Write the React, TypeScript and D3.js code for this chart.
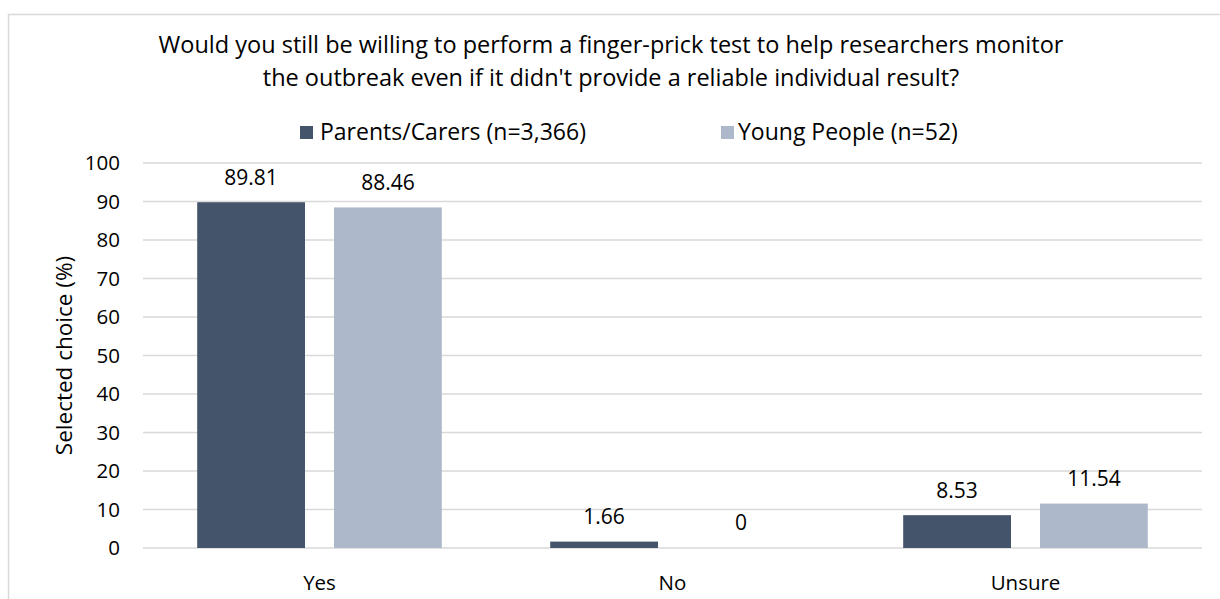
import React from "react";
import * as d3 from "d3";

const categories = ["Yes", "No", "Unsure"];
const seriesNames = ["Parents/Carers (n=3,366)", "Young People (n=52)"];
const parentsValues = [89.81, 1.66, 8.53];
const youngValues = [88.46, 0, 11.54];
const yTicks = [0, 10, 20, 30, 40, 50, 60, 70, 80, 90, 100];
const titleLines = [
  "Would you still be willing to perform a finger-prick test to help researchers monitor",
  "the outbreak even if it didn't provide a reliable individual result?",
];

const colors = ["#44546A", "#ADB9CA"];
const FONT = "'Open Sans', 'Noto Sans', sans-serif";
const W = 1220;
const H = 599;
const plot = { left: 143, right: 1202, top: 163, bottom: 548 };

export default function App() {
  const series = [parentsValues, youngValues];
  const x0 = d3.scaleBand<string>().domain(categories).range([plot.left, plot.right]).paddingInner(0).paddingOuter(0);
  const groupPad = 54.2;
  const x1 = d3
    .scaleBand<number>()
    .domain([0, 1])
    .range([groupPad, x0.bandwidth() - groupPad])
    .paddingInner(0.212)
    .paddingOuter(0);
  const y = d3.scaleLinear().domain([0, 100]).range([plot.bottom, plot.top]);

  return (
    <svg
      width={W}
      height={H}
      style={{ position: "absolute", left: 0, top: 0, background: "#fff" }}
      fontFamily={FONT}
    >
      <rect x={8.5} y={14.5} width={W} height={H} fill="#fff" stroke="#D9D9D9" strokeWidth={1.5} />

      {titleLines.map((t, i) => (
        <text key={i} x={611} y={53 + i * 33} textAnchor="middle" fontSize={23.5} fill="#000">
          {t}
        </text>
      ))}

      {/* legend */}
      <g>
        <rect x={300} y={126} width={13} height={13} fill={colors[0]} />
        <text x={320} y={140} fontSize={23} fill="#000">{seriesNames[0]}</text>
        <rect x={721} y={126} width={13} height={13} fill={colors[1]} />
        <text x={738} y={140} fontSize={23} fill="#000">{seriesNames[1]}</text>
      </g>

      {/* gridlines and y ticks */}
      {yTicks.map((t) => (
        <g key={t}>
          <line x1={plot.left} x2={plot.right} y1={y(t)} y2={y(t)} stroke="#D9D9D9" strokeWidth={1.3} />
          <text x={120} y={y(t)} dy="0.35em" textAnchor="end" fontSize={20.5} fill="#000">
            {t}
          </text>
        </g>
      ))}

      <text
        transform={`translate(72, ${(plot.top + plot.bottom) / 2}) rotate(-90)`}
        textAnchor="middle"
        fontSize={22.5}
        fill="#000"
      >
        Selected choice (%)
      </text>

      {/* bars */}
      {categories.map((c, ci) => (
        <g key={c} transform={`translate(${x0(c)},0)`}>
          {series.map((vals, si) => {
            const v = vals[ci];
            const bx = x1(si)!;
            const bw = x1.bandwidth();
            return (
              <g key={si}>
                <rect x={bx} y={y(v)} width={bw} height={y(0) - y(v)} fill={colors[si]} />
                <text
                  x={bx + bw / 2}
                  y={y(v) - 25}
                  dy="0.35em"
                  textAnchor="middle"
                  fontSize={21}
                  fill="#000"
                >
                  {v}
                </text>
              </g>
            );
          })}
          <text x={x0.bandwidth() / 2} y={583} dy="0.35em" textAnchor="middle" fontSize={20.5} fill="#000">
            {c}
          </text>
        </g>
      ))}
    </svg>
  );
}
